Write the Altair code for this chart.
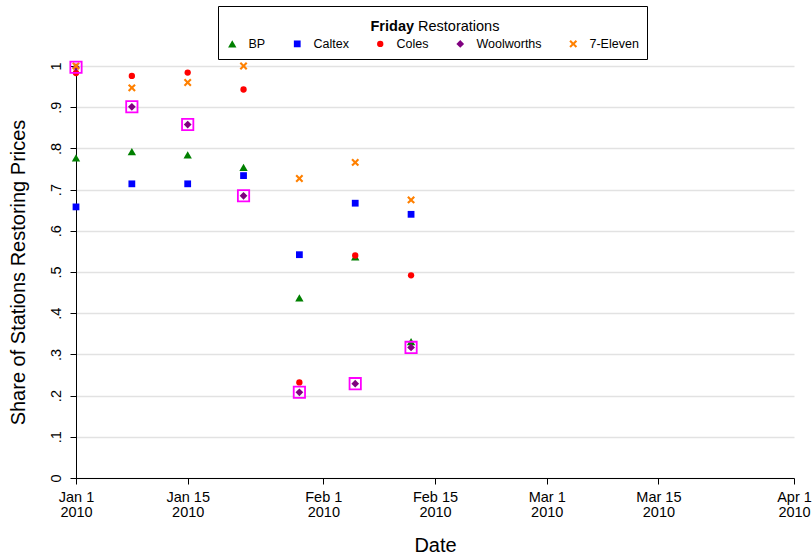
import altair as alt
import pandas as pd

# Weekly (Friday) share of stations restoring prices, by brand
dates = ["2010-01-01", "2010-01-08", "2010-01-15", "2010-01-22",
         "2010-01-29", "2010-02-05", "2010-02-12"]
brands = ["BP", "Caltex", "Coles", "Woolworths", "7-Eleven"]

bp = [0.777, 0.792, 0.784, 0.754, 0.437, 0.537, 0.331]
caltex = [0.658, 0.714, 0.714, 0.734, 0.542, 0.667, 0.640]
coles = [0.983, 0.976, 0.984, 0.943, 0.232, 0.540, 0.492]
woolworths = [0.997, 0.901, 0.858, 0.685, 0.208, 0.229, 0.317]
seven_eleven = [1.000, 0.947, 0.960, 1.000, 0.727, 0.766, 0.675]

shares = {"BP": bp, "Caltex": caltex, "Coles": coles,
          "Woolworths": woolworths, "7-Eleven": seven_eleven}

colors = ["#008000", "#0000ff", "#ff0000", "#800080", "#ff8000"]
x_path = ("M-0.62,-1L0,-0.38L0.62,-1L1,-0.62L0.38,0L1,0.62L0.62,1"
          "L0,0.38L-0.62,1L-1,0.62L-0.38,0L-1,-0.62Z")
shapes = ["triangle-up", "square", "circle", "diamond", x_path]
marker_sizes = [70, 46, 40, 60, 62]

y_ticks = [round(i / 10, 1) for i in range(11)]
x_ticks = [(1, 1), (1, 15), (2, 1), (2, 15), (3, 1), (3, 15), (4, 1)]

rows = [{"date": d, "brand": b, "share": v}
        for b in brands for d, v in zip(dates, shares[b])]
df = pd.DataFrame(rows)

font = "Liberation Sans"

x_enc = alt.X(
    "date:T",
    scale=alt.Scale(type="utc", domain=[
        alt.DateTime(year=2010, month=1, date=1, utc=True),
        alt.DateTime(year=2010, month=4, date=1, utc=True)]),
    axis=alt.Axis(
        values=[alt.DateTime(year=2010, month=m, date=d, utc=True) for m, d in x_ticks],
        labelExpr="[utcFormat(datum.value, '%b %-d'), utcFormat(datum.value, '%Y')]",
        labelFlush=False, labelOverlap=False,
        labelFont=font, labelFontSize=14.5, labelColor="black",
        labelPadding=6, labelLineHeight=15,
        grid=False, domainColor="black", domainWidth=1,
        tickColor="black", tickSize=6, tickWidth=1,
        title="Date", titleFont=font, titleFontSize=20, titleFontWeight="normal",
        titleColor="black", titleX=359, titleY=73, titleAlign="center",
        titleBaseline="alphabetic"),
)

y_enc = alt.Y(
    "share:Q",
    scale=alt.Scale(domain=[0, 1], nice=False, zero=True),
    axis=alt.Axis(
        values=y_ticks,
        labelExpr="datum.value == 0 ? '0' : datum.value == 1 ? '1' : "
                  "replace(format(datum.value, '.1f'), '0.', '.')",
        labelFont=font, labelFontSize=14.5, labelColor="black",
        labelAngle=270, labelAlign="center", labelBaseline="bottom",
        labelPadding=7,
        grid=True, gridColor="#e2e2e2", gridWidth=1.5,
        domainColor="black", domainWidth=1,
        tickColor="black", tickSize=6, tickWidth=1,
        title="Share of Stations Restoring Prices", titleFont=font,
        titleFontSize=20, titleFontWeight="normal", titleColor="black",
        titleAngle=270, titleX=-58, titleY=206, titleAlign="center",
        titleBaseline="middle"),
)

# The legend reserves a blank title line; the mixed-weight heading is drawn below
legend = alt.Legend(
    orient="none", legendX=142, legendY=-60, direction="horizontal",
    padding=8, strokeColor="black", cornerRadius=0,
    title=" ", titleFont=font,
    titleFontSize=14.5, titleFontWeight="normal", titleAnchor="middle",
    titlePadding=9,
    labelFont=font, labelFontSize=12.5, labelColor="black",
    labelOffset=10, columnPadding=25, symbolStrokeWidth=0,
)

points = alt.Chart(df).mark_point(filled=True, opacity=1).encode(
    x=x_enc,
    y=y_enc,
    color=alt.Color("brand:N", scale=alt.Scale(domain=brands, range=colors),
                    legend=legend),
    shape=alt.Shape("brand:N", scale=alt.Scale(domain=brands, range=shapes),
                    legend=legend),
    size=alt.Size("brand:N", scale=alt.Scale(type="ordinal", domain=brands,
                                             range=marker_sizes),
                  legend=legend),
)

# Magenta boxes highlighting the Woolworths series
highlight = alt.Chart(df).transform_filter(
    alt.datum.brand == "Woolworths"
).mark_point(shape="square", filled=False, size=128, stroke="#ff00ff",
             strokeWidth=1.8, opacity=1).encode(x="date:T", y="share:Q")

# Legend heading with a bold first word
title_bold = alt.Chart(pd.DataFrame({"t": ["Friday"]})).mark_text(
    font=font, fontSize=14.5, fontWeight="bold", align="left",
    baseline="alphabetic", color="black"
).encode(text="t:N", x=alt.value(294.5), y=alt.value(-35))

title_rest = alt.Chart(pd.DataFrame({"t": ["Restorations"]})).mark_text(
    font=font, fontSize=14.5, fontWeight="normal", align="left",
    baseline="alphabetic", color="black"
).encode(text="t:N", x=alt.value(342.0), y=alt.value(-35))

chart = alt.layer(points, highlight, title_bold, title_rest).properties(
    width=718, height=412,
    autosize=alt.AutoSizeParams(type="none"),
    padding={"left": 76, "top": 66, "right": 18, "bottom": 76},
    background="white",
).configure_view(strokeOpacity=0)

chart.save("out.html", embed_options={"renderer": "svg", "actions": False})
